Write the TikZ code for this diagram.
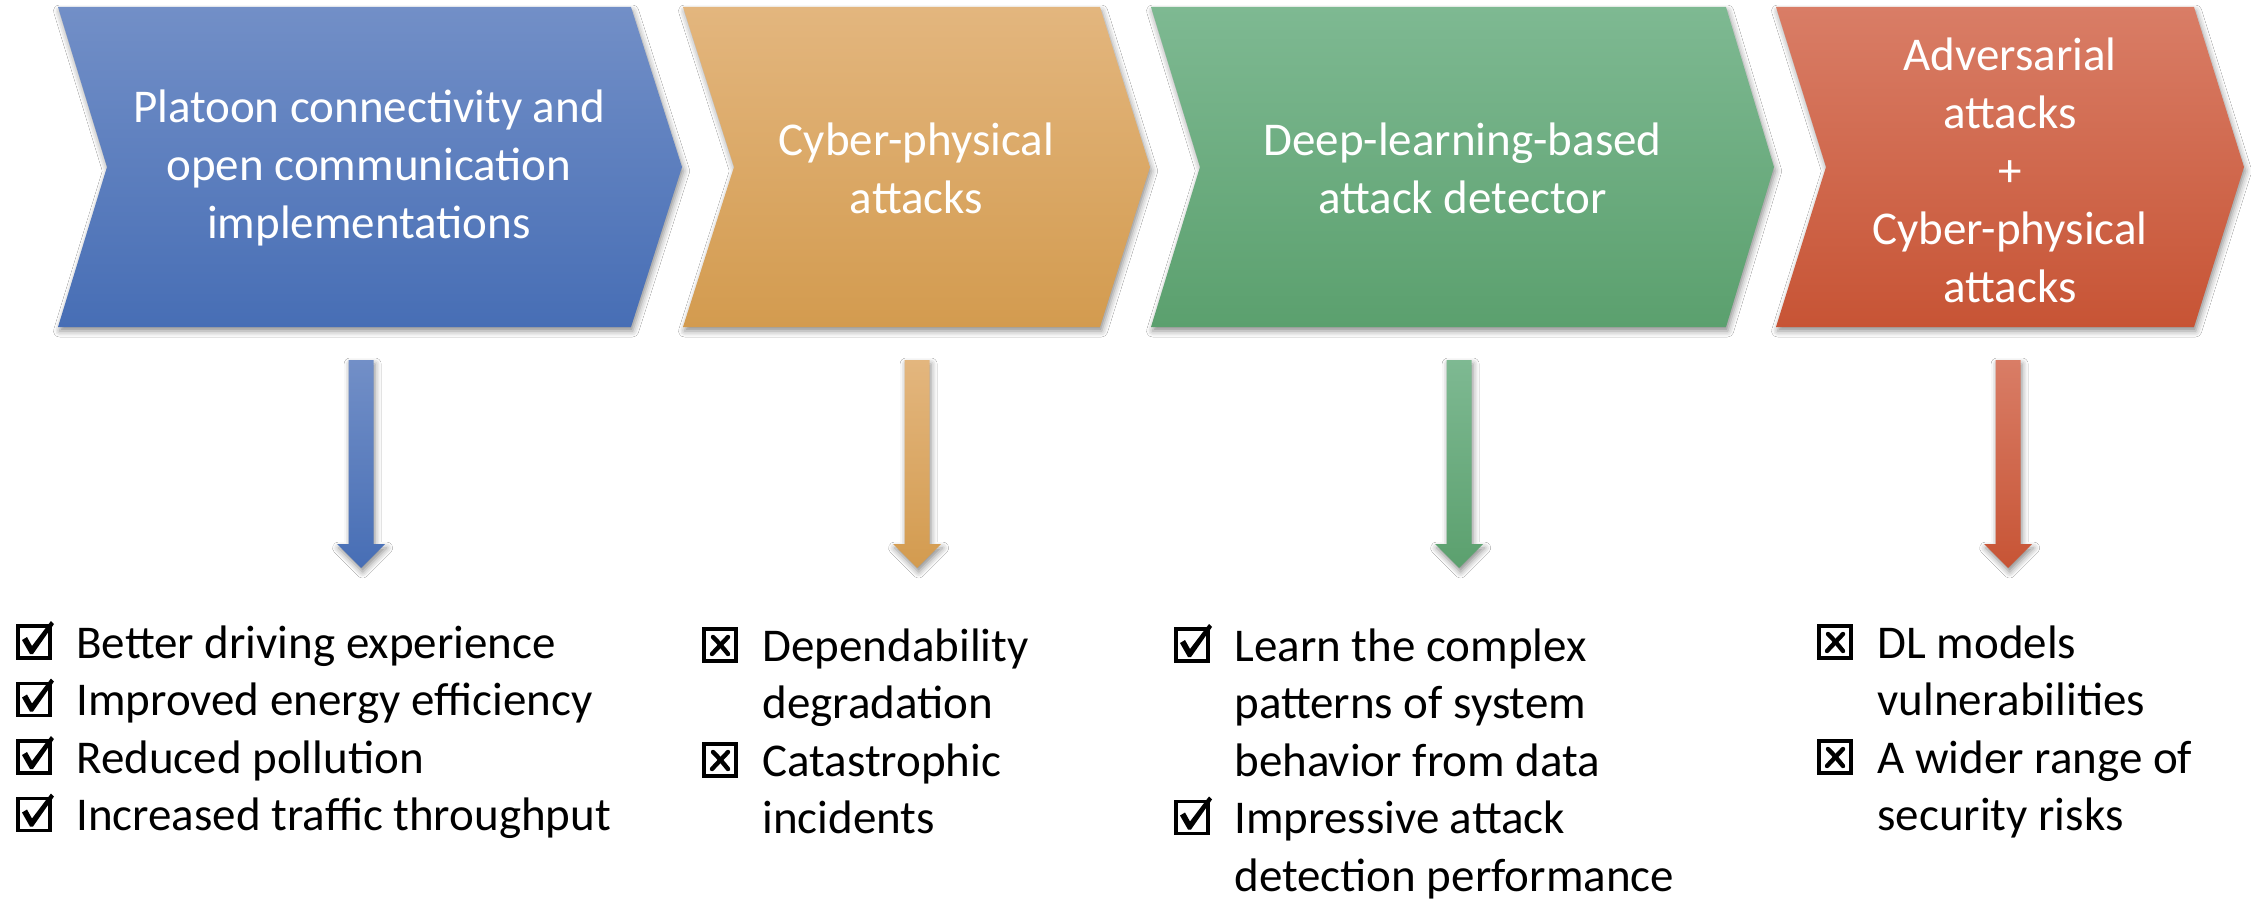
\documentclass[tikz,border=0pt]{standalone}
\usepackage{fontspec}
\setmainfont{Carlito}
\usetikzlibrary{calc,shadows.blur}

\definecolor{blueT}{RGB}{114,143,199}
\definecolor{blueB}{RGB}{71,110,181}
\definecolor{orngT}{RGB}{227,182,126}
\definecolor{orngB}{RGB}{211,155,79}
\definecolor{grnT}{RGB}{126,185,146}
\definecolor{grnB}{RGB}{91,160,110}
\definecolor{redT}{RGB}{217,125,102}
\definecolor{redB}{RGB}{199,84,53}

\tikzset{
  soft/.style={blur shadow={shadow xshift=0.8pt,shadow yshift=-2pt,
      shadow blur radius=3pt,shadow opacity=45}},
  chevtext/.style={text=white,align=center,inner sep=0pt,
      font=\fontsize{23.5}{29}\selectfont},
  listtext/.style={anchor=base west,inner sep=0pt,
      font=\fontsize{23.5}{28.75}\selectfont},
  okbox/.pic={
    \draw[line width=1.6pt] (0,0) rectangle (32,32);
    \fill (4,14) -- (9,11) -- (14,20) -- (33,-5) -- (36,-2) -- (15,28) -- (12,28) -- cycle;
  },
  nobox/.pic={
    \draw[line width=1.6pt] (0,0) rectangle (32,32);
    \draw[line width=2.2pt,line cap=round] (9,8) .. controls (15,14) .. (24,25);
    \draw[line width=2.2pt,line cap=round] (24,8) .. controls (16,16) .. (8,25);
  }
}

% chevron: left x, notch x, right x, tip x, top colour, bottom colour
\newcommand\chevshape[6]{%
  \path[soft,top color=#5,bottom color=#6]
    (#1,7) -- (#3,7) -- (#4,167) -- (#3,327) -- (#1,327) -- (#2,167) -- cycle;}

% block arrow pointing down from a named start to a named tip
\newcommand\blockarrow[4]{%
  \path[soft,top color=#3,bottom color=#4]
    ($(#1)+(-12.5,0)$) -- ($(#1)+(12.5,0)$) -- ($(#2)+(12.5,-24)$) --
    ($(#2)+(24,-24)$) -- (#2) -- ($(#2)+(-24,-24)$) -- ($(#2)+(-12.5,-24)$) -- cycle;}

\begin{document}
\begin{tikzpicture}[x=0.5pt,y=-0.5pt]
\fill[white] (0,0) rectangle (2251,899);
\useasboundingbox (0,0) rectangle (2251,899);

% stages
\chevshape{58}{107}{631}{682}{blueT}{blueB}
\chevshape{683}{734}{1100}{1150}{orngT}{orngB}
\chevshape{1151}{1200}{1726}{1774}{grnT}{grnB}
\chevshape{1776}{1826}{2194}{2244}{redT}{redB}

\node[chevtext] (c1) at (369,168) {Platoon connectivity and\\open communication\\implementations};
\node[chevtext] (c2) at (916.5,168) {Cyber-physical\\attacks};
\node[chevtext] (c3) at (1462.5,168) {Deep-learning-based\\attack detector};
\node[chevtext] (c4) at (2010,170) {Adversarial\\attacks\\+\\Cyber-physical\\attacks};

% arrows from each stage to its outcomes
\coordinate (a1s) at (361,360);  \coordinate (a1e) at (361,568);
\coordinate (a2s) at (917,360);  \coordinate (a2e) at (917,568);
\coordinate (a3s) at (1459,360); \coordinate (a3e) at (1459,568);
\coordinate (a4s) at (2008,360); \coordinate (a4e) at (2008,568);
\blockarrow{a1s}{a1e}{blueT}{blueB}
\blockarrow{a2s}{a2e}{orngT}{orngB}
\blockarrow{a3s}{a3e}{grnT}{grnB}
\blockarrow{a4s}{a4e}{redT}{redB}

% outcomes
\node[listtext] (l1) at (76,658) {\begin{tabular}[t]{@{}l@{}}Better driving experience\\Improved energy efficiency\\Reduced pollution\\Increased traffic throughput\end{tabular}};
\node[listtext] (l2) at (762,661) {\begin{tabular}[t]{@{}l@{}}Dependability\\degradation\\Catastrophic\\incidents\end{tabular}};
\node[listtext] (l3) at (1234,661) {\begin{tabular}[t]{@{}l@{}}Learn the complex\\patterns of system\\behavior from data\\Impressive attack\\detection performance\end{tabular}};
\node[listtext] (l4) at (1877,658) {\begin{tabular}[t]{@{}l@{}}DL models\\vulnerabilities\\A wider range of\\security risks\end{tabular}};

% ballot boxes
\foreach \k in {0,1,2,3} \pic at ($(l1.base west)+(-58,-32+57.5*\k)$) {okbox};
\foreach \k in {0,2} \pic at ($(l2.base west)+(-58,-32+57.5*\k)$) {nobox};
\foreach \k in {0,3} \pic at ($(l3.base west)+(-58,-32+57.5*\k)$) {okbox};
\foreach \k in {0,2} \pic at ($(l4.base west)+(-58,-32+57.5*\k)$) {nobox};
\end{tikzpicture}
\end{document}
